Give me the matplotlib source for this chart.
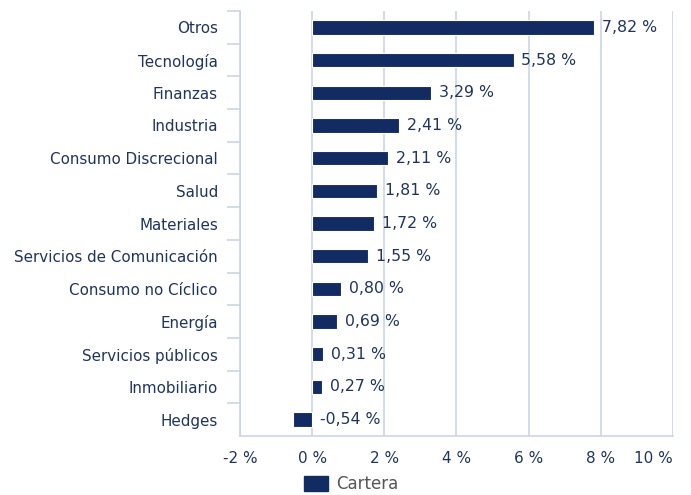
import numpy as np
import matplotlib; matplotlib.use("Agg")
import matplotlib.pyplot as plt
from matplotlib.patches import Patch

sectors = ["Otros", "Tecnología", "Finanzas", "Industria", "Consumo Discrecional",
           "Salud", "Materiales", "Servicios de Comunicación", "Consumo no Cíclico",
           "Energía", "Servicios públicos", "Inmobiliario", "Hedges"]
cartera = [7.82, 5.58, 3.29, 2.41, 2.11, 1.81, 1.72, 1.55, 0.80, 0.69, 0.31, 0.27, -0.54]
xticks = [-2, 0, 2, 4, 6, 8, 10]

navy = "#132b63"; txt = "#1f3560"; grid = "#c9d5e6"

fig = plt.figure(figsize=(6.91, 4.95), dpi=100)
ax = fig.add_axes([240/691, 1-436/495, 433/691, 425/495])
y = np.arange(len(sectors))
ax.barh(y, cartera, height=0.44, color=navy, edgecolor="white", lw=0.8, zorder=3)
for yi, v in zip(y, cartera):
    ax.text(max(v, 0) + 0.22, yi, f"{v:.2f} %".replace(".", ","), va="center", ha="left",
            color=txt, fontsize=11.3, zorder=4)
ax.set_ylim(len(sectors) - 0.5, -0.5)
ax.set_xlim(-2, 10)
ax.set_xticks(xticks)
ax.set_xticklabels([f"{t} %" for t in xticks])
ax.get_xticklabels()[-1].set_ha("right")
ax.set_yticks(y)
ax.set_yticklabels(sectors)
ax.set_yticks(np.arange(len(sectors)) - 0.5, minor=True)
ax.tick_params(axis="y", which="major", length=0, pad=16, colors=txt, labelsize=10.9)
ax.tick_params(axis="y", which="minor", length=9.5, width=1.2, color=grid)
ax.tick_params(axis="x", length=0, pad=11, colors=txt, labelsize=11)
ax.grid(axis="x", color=grid, lw=1.2, zorder=0)
for s in ["top", "right"]: ax.spines[s].set_visible(False)
for s in ["left", "bottom"]:
    ax.spines[s].set_color(grid); ax.spines[s].set_linewidth(1.2)
leg = fig.legend(handles=[Patch(color=navy, label="Cartera")], loc="center",
                 bbox_to_anchor=(351/691, 1-484/495), frameon=False, fontsize=12,
                 handlelength=1.45, handleheight=1.0, handletextpad=0.5)
for t in leg.get_texts(): t.set_color("#555555")
fig.savefig("out.png", dpi=100)
